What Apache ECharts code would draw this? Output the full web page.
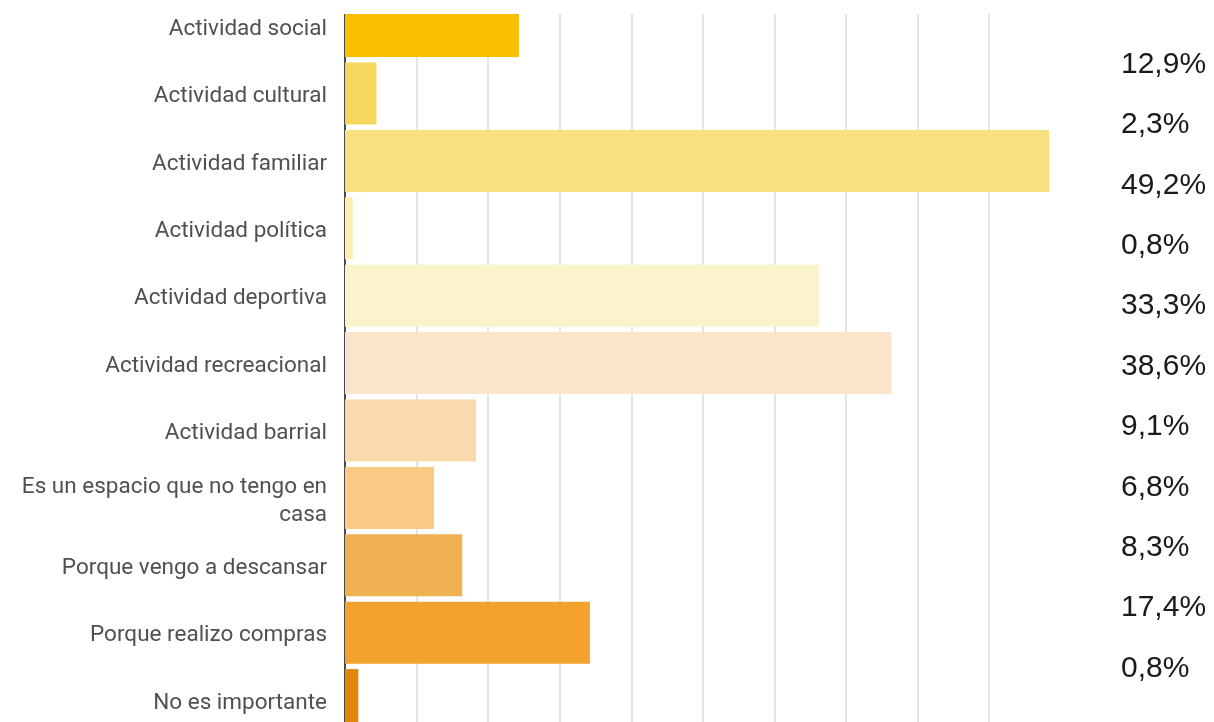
<!DOCTYPE html>
<html>
<head>
<meta charset="utf-8">
<script src="https://cdn.jsdelivr.net/npm/echarts@6/dist/echarts.min.js"></script>
<style>
html,body{margin:0;padding:0;background:#fff;}
#chart{width:1214px;height:722px;}
</style>
</head>
<body>
<div id="chart"></div>
<script>
const categories = [
  'Actividad social',
  'Actividad cultural',
  'Actividad familiar',
  'Actividad política',
  'Actividad deportiva',
  'Actividad recreacional',
  'Actividad barrial',
  'Es un espacio que no tengo en\ncasa',
  'Porque vengo a descansar',
  'Porque realizo compras',
  'No es importante'
];
// bar lengths as drawn in the picture (percent units)
const barValues = [12.15, 2.2, 49.2, 0.54, 33.13, 38.19, 9.15, 6.22, 8.19, 17.11, 0.93];
// percentage labels printed at the right
const pctValues = [12.9, 2.3, 49.2, 0.8, 33.3, 38.6, 9.1, 6.8, 8.3, 17.4, 0.8];
const barColors = ['#FCBF00','#F5D75E','#F8E07F','#FBEEAE','#FBF3CC','#FAE5CB','#F9DAAC','#FDCA86','#F0B153','#F2A22D','#E0860A'];

const pctLabels = pctValues.map(v => v.toFixed(1).replace('.', ',') + '%');

const chart = echarts.init(document.getElementById('chart'), null, {renderer:'canvas'});
chart.setOption({
  animation: false,
  backgroundColor: '#fff',
  grid: [
    {left: 345, width: 715.75, top: -7.6, height: 741.4, containLabel: false, outerBoundsMode: 'none'},
    {left: 1000, width: 110, top: 34.3, height: 664.4, containLabel: false, outerBoundsMode: 'none'},
    {left: 345, width: 715.75, top: -4.6, height: 741.4, containLabel: false, outerBoundsMode: 'none'}
  ],
  xAxis: [
    {
      type: 'value', gridIndex: 0, min: 0, max: 50, interval: 5,
      axisLine: {show: false}, axisTick: {show: false}, axisLabel: {show: false},
      splitLine: {show: true, showMinLine: false, showMaxLine: false, lineStyle: {color: '#E4E4E4', width: 2}}
    },
    {type: 'value', gridIndex: 1, min: 0, max: 1, show: false},
    {type: 'value', gridIndex: 2, min: 0, max: 1, show: false}
  ],
  yAxis: [
    {
      type: 'category', gridIndex: 0, inverse: true, data: categories, offset: 1,
      axisLine: {show: true, lineStyle: {color: '#4a4a4a', width: 2}},
      axisTick: {show: false},
      axisLabel: {show: false},
      splitLine: {show: false}
    },
    {
      type: 'category', gridIndex: 1, inverse: true, position: 'right', data: pctLabels,
      axisLine: {show: false}, axisTick: {show: false},
      axisLabel: {margin: 11, color: '#1a1a1a', fontFamily: 'Liberation Sans', fontSize: 30, align: 'left'},
      splitLine: {show: false}
    },
    {
      type: 'category', gridIndex: 2, inverse: true, data: categories, offset: 1,
      axisLine: {show: false}, axisTick: {show: false},
      axisLabel: {
        margin: 17, color: '#505050', fontFamily: 'Roboto', fontSize: 22.5,
        lineHeight: 28, align: 'right'
      },
      splitLine: {show: false}
    }
  ],
  series: [{
    type: 'bar',
    xAxisIndex: 0, yAxisIndex: 0,
    barCategoryGap: '8%',
    data: barValues.map((v, i) => ({
      value: v,
      itemStyle: i === 0
        ? {color: barColors[i], borderColor: barColors[i], borderWidth: 3}
        : {color: barColors[i]}
    })),
    label: {show: false}
  }],
  graphic: [{
    type: 'rect', z: 100,
    shape: {x: 330, y: 0, width: 800, height: 14},
    style: {fill: '#ffffff'}
  }]
});
</script>
</body>
</html>
